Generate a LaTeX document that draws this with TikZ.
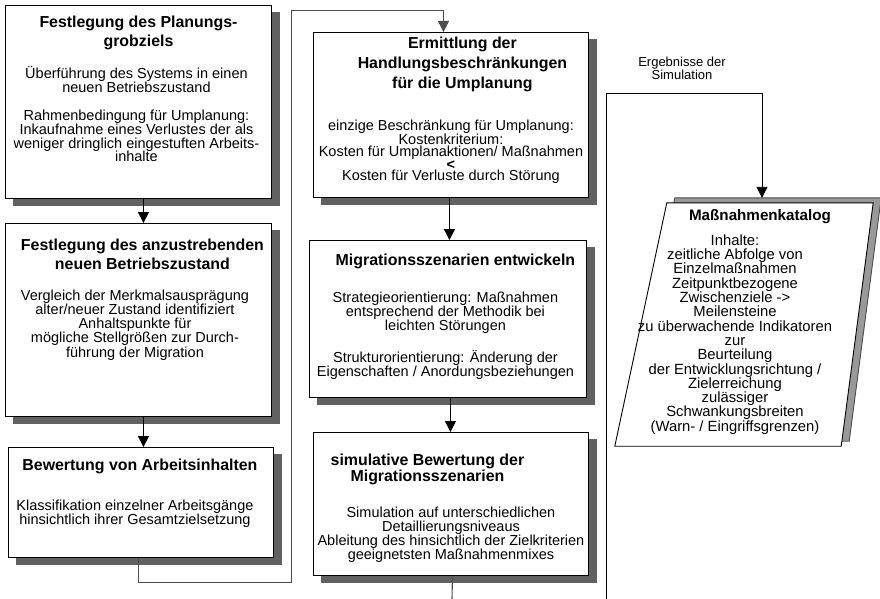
\documentclass[tikz,border=0pt]{standalone}
\usepackage{fontspec}
\setmainfont{Liberation Sans}
\usetikzlibrary{positioning, arrows.meta, backgrounds}

\tikzset{
  stepbox/.style={draw, line width=0.9pt, fill=white, anchor=north west, inner sep=0pt},
  boxshadow/.style={fill=black!62},
  boxtitle/.style={font=\fontsize{15.9}{18.5}\selectfont\bfseries, align=center,
    inner sep=0pt, anchor=north},
  boxbody/.style={font=\fontsize{14.5}{13.8}\selectfont, align=center,
    inner sep=0pt, anchor=north},
  flow/.style={-{Triangle[width=11pt,length=11pt]}, line width=0.9pt},
  loopline/.style={draw=black!70, line width=1.1pt},
}

\begin{document}
\begin{tikzpicture}[x=1pt, y=-1pt]
\useasboundingbox (0,0) rectangle (880,599);

% --- left column ---
\node[stepbox, minimum width=266pt, minimum height=193pt] (ziel) at (5,5) {};
\node[boxtitle] (ziel-t) at ([yshift=-11pt]ziel.north)
  {Festlegung des Planungs-\\grobziels};
\node[boxbody] (ziel-b) at ([xshift=-2pt, yshift=-61.6pt]ziel.north)
  {Überführung des Systems in einen\\neuen Betriebszustand\\[14pt]
   Rahmenbedingung für Umplanung:\\Inkaufnahme eines Verlustes der als\\
   weniger dringlich eingestuften Arbeits-\\inhalte};

\node[stepbox, minimum width=266pt, minimum height=193pt] (zustand) at (5,223) {};
\node[boxtitle] (zustand-t) at ([xshift=4pt, yshift=-16pt]zustand.north)
  {Festlegung des anzustrebenden\\neuen Betriebszustand};
\node[boxbody, font=\fontsize{14.5}{14.2}\selectfont] (zustand-b)
  at ([xshift=-3.5pt, yshift=-66.6pt]zustand.north)
  {Vergleich der Merkmalsausprägung\\alter/neuer Zustand identifiziert\\
   Anhaltspunkte für\\mögliche Stellgrößen zur Durch-\\führung der Migration};

\node[stepbox, minimum width=265pt, minimum height=110pt] (inhalte) at (8,447) {};
\node[boxtitle] (inhalte-t) at ([xshift=-1pt, yshift=-12pt]inhalte.north)
  {Bewertung von Arbeitsinhalten};
\node[boxbody] (inhalte-b) at ([xshift=-6pt, yshift=-52.6pt]inhalte.north)
  {Klassifikation einzelner Arbeitsgänge\\hinsichtlich ihrer Gesamtzielsetzung};

% --- middle column ---
\node[stepbox, minimum width=275pt, minimum height=165pt] (beschr) at (313,32) {};
\node[boxtitle, font=\fontsize{15.9}{20}\selectfont\bfseries] (beschr-t)
  at ([xshift=11.5pt, yshift=-5pt]beschr.north)
  {Ermittlung der\\Handlungsbeschränkungen\\für die Umplanung};
\node[boxbody, font=\fontsize{14.5}{11.6}\selectfont] (beschr-b)
  at ([yshift=-87.6pt]beschr.north)
  {einzige Beschränkung für Umplanung:\\Kostenkriterium:\\
   Kosten für Umplanaktionen/ Maßnahmen\\\textbf{<}\\
   Kosten für Verluste durch Störung};

\node[stepbox, minimum width=277pt, minimum height=157pt] (szenarien) at (309,240) {};
\node[boxtitle] (szenarien-t) at ([xshift=7.5pt, yshift=-14pt]szenarien.north)
  {Migrationsszenarien entwickeln};
\node[boxbody, font=\fontsize{14.5}{14}\selectfont] (szenarien-b)
  at ([xshift=-2.5pt, yshift=-51.6pt]szenarien.north)
  {Strategieorientierung: Maßnahmen\\entsprechend der Methodik bei\\
   leichten Störungen\\[16pt]
   Strukturorientierung: Änderung der\\Eigenschaften / Anordungsbeziehungen};

\node[stepbox, minimum width=275pt, minimum height=143pt] (bewertung) at (313,432) {};
\node[boxtitle, font=\fontsize{15.9}{16}\selectfont\bfseries] (bewertung-t)
  at ([xshift=-23.5pt, yshift=-22pt]bewertung.north)
  {simulative Bewertung der\\Migrationsszenarien};
\node[boxbody, font=\fontsize{14.5}{14}\selectfont] (bewertung-b)
  at ([yshift=-74.6pt]bewertung.north)
  {Simulation auf unterschiedlichen\\Detaillierungsniveaus\\
   Ableitung des hinsichtlich der Zielkriterien\\geeignetsten Maßnahmenmixes};

% shadows behind the boxes
\begin{scope}[on background layer]
  \foreach \b in {ziel, zustand, inhalte, beschr, szenarien, bewertung}
    \fill[boxshadow] ([xshift=8pt, yshift=-7pt]\b.south west)
      rectangle ([xshift=8pt, yshift=-7pt]\b.north east);
\end{scope}

% --- right column: slanted catalogue sheet ---
\node[minimum width=258pt, minimum height=243pt, inner sep=0pt] (katalog)
  at (744,324.5) {};
\filldraw[fill=black!40, draw=black!70, line width=0.9pt]
  ([xshift=60pt, yshift=5pt]katalog.north west)
  -- ([xshift=8pt, yshift=5pt]katalog.north east)
  -- ([xshift=-24pt, yshift=5pt]katalog.south east)
  -- ([xshift=8pt, yshift=5pt]katalog.south west) -- cycle;
\filldraw[fill=white, line width=0.9pt]
  ([xshift=52pt]katalog.north west) -- (katalog.north east)
  -- ([xshift=-32pt]katalog.south east) -- (katalog.south west) -- cycle;
\node[boxtitle, font=\fontsize{15.2}{18}\selectfont\bfseries] (katalog-t)
  at ([xshift=16pt, yshift=-6.4pt]katalog.north) {Maßnahmenkatalog};
\node[boxbody, font=\fontsize{14.8}{14.3}\selectfont] (katalog-b)
  at ([xshift=-9pt, yshift=-31.6pt]katalog.north)
  {Inhalte:\\zeitliche Abfolge von\\Einzelmaßnahmen\\Zeitpunktbezogene\\
   Zwischenziele ->\\Meilensteine\\zu überwachende Indikatoren\\zur\\
   Beurteilung\\der Entwicklungsrichtung /\\Zielerreichung\\zulässiger\\
   Schwankungsbreiten\\(Warn- / Eingriffsgrenzen)};

\node[font=\fontsize{13}{12}\selectfont, align=center, inner sep=0pt] (ergtext)
  at (682,68) {Ergebnisse der\\Simulation};

% --- flow arrows ---
\draw[flow] ([xshift=5pt]ziel.south) -- ([xshift=5pt]zustand.north);
\draw[flow] ([xshift=5pt]zustand.south) -- ([xshift=2.5pt]inhalte.north);
\draw[flow] ([xshift=-1.5pt]beschr.south) -- ([xshift=1.5pt]szenarien.north);
\draw[flow] ([xshift=2.5pt]szenarien.south) -- ([xshift=-0.5pt]bewertung.north);

% --- feedback lines ---
\draw[loopline, flow, draw=black!70] ([xshift=-2.5pt]inhalte.south) -- ++(0,25)
  -| (291,10) -| ([xshift=-7.5pt]beschr.north);
\coordinate (unten) at (452,599);
\draw[loopline] ([xshift=1.5pt]bewertung.south) -- (unten);
\coordinate (ergebnis) at (606,599);
\draw[loopline, flow, draw=black] (ergebnis) |- (762,93)
  -- ([xshift=18pt, yshift=5pt]katalog.north);

\end{tikzpicture}
\end{document}
